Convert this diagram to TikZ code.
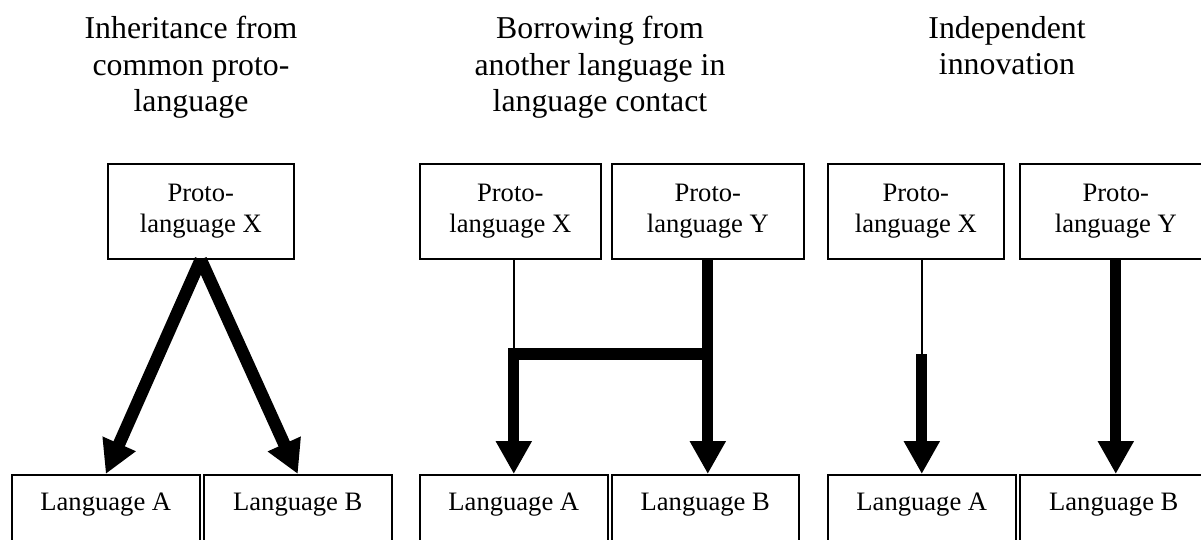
\documentclass[tikz,border=0pt]{standalone}
\usepackage{fontspec}
\setmainfont{Liberation Serif}
\usetikzlibrary{arrows.meta}

\begin{document}
\begin{tikzpicture}[x=0.5pt, y=-0.5pt,
  title/.style={align=center, inner sep=0pt, anchor=north, font=\fontsize{15.9}{18.2}\selectfont},
  protobox/.style={draw, line width=0.8pt, inner sep=0pt, align=center, anchor=north west,
    minimum height=47.5pt, font=\fontsize{13.3}{15.8}\selectfont},
  langbox/.style={draw, line width=0.8pt, inner sep=0pt, anchor=north west, minimum width=94pt,
    text height=18pt, text depth=40pt, font=\fontsize{13.3}{15.8}\selectfont},
  heavy/.style={line width=5.6pt, -{Triangle[width=17pt, length=16.5pt]}},
  slim/.style={line width=0.7pt}]
\useasboundingbox (0,0) rectangle (1201,540);

\node[title] (tinh) at (191,16) {Inheritance from\\common proto-\\language};
\node[title] (tbor) at (600,16) {Borrowing from\\another language in\\language contact};
\node[title] (tind) at (1007,16) {Independent\\innovation};

\node[protobox, minimum width=93pt] (px1) at (107,163) {Proto-\\language X};
\node[protobox, minimum width=90.5pt] (px2) at (419,163) {Proto-\\language X};
\node[protobox, minimum width=96pt] (py2) at (611,163) {Proto-\\language Y};
\node[protobox, minimum width=88pt] (px3) at (827,163) {Proto-\\language X};
\node[protobox, minimum width=96pt] (py3) at (1019,163) {Proto-\\language Y};

\node[langbox] (la1) at (11,474) {Language A};
\node[langbox] (lb1) at (203,474) {Language B};
\node[langbox] (la2) at (419,474) {Language A};
\node[langbox, minimum width=93.5pt] (lb2) at (611,474) {Language B};
\node[langbox] (la3) at (827,474) {Language A};
\node[langbox] (lb3) at (1019,474) {Language B};

\coordinate (mid) at (0,354);
\coordinate (j2) at (la2.north |- mid);
\coordinate (j3) at (la3.north |- mid);

\draw[heavy, line width=6.2pt] (px1.south) -- (la1.north);
\draw[heavy, line width=6.2pt] (px1.south) -- (lb1.north);

\draw[slim] (la2.north |- px2.south) -- (j2);
\draw[heavy] (py2.south |- j2) -- (j2) -- (la2.north);
\draw[heavy] (py2.south) -- (py2.south |- lb2.north);

\draw[slim] (la3.north |- px3.south) -- (j3);
\draw[heavy] (j3) -- (la3.north);
\draw[heavy] (py3.south) -- (py3.south |- lb3.north);
\end{tikzpicture}
\end{document}
